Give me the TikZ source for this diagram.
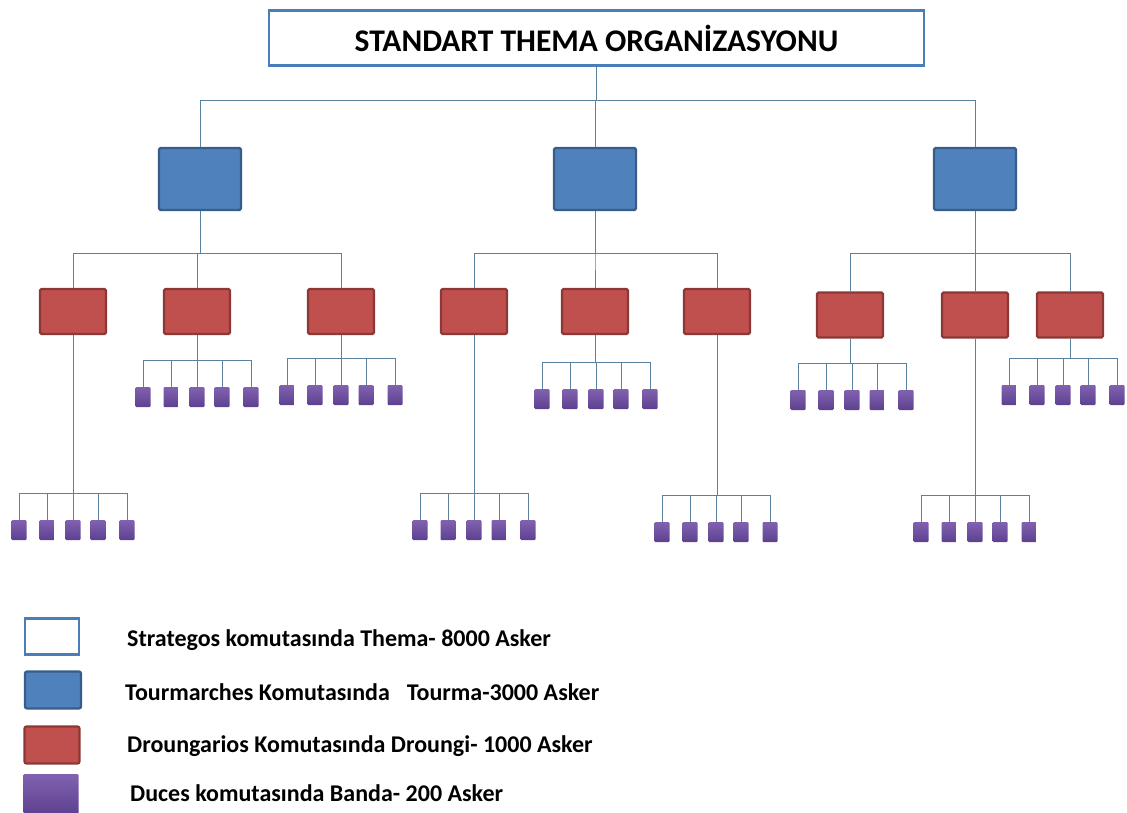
\documentclass[tikz,border=0pt]{standalone}
\usepackage{fontspec}
\setmainfont{Carlito}
\usetikzlibrary{positioning}
\definecolor{themaedge}{HTML}{4A7EBB}
\definecolor{tourmafill}{HTML}{4F81BD}
\definecolor{tourmaedge}{HTML}{385D8A}
\definecolor{droungifill}{HTML}{C0504D}
\definecolor{droungiedge}{HTML}{8C3836}
\definecolor{bandatop}{HTML}{8262B0}
\definecolor{bandabottom}{HTML}{5C4190}
\definecolor{linkcol}{HTML}{5A819E}
\tikzset{
	thema/.style={draw=themaedge, line width=2.2pt, fill=white, minimum width=655pt, minimum height=55pt, inner sep=0pt},
	tourma/.style={draw=tourmaedge, line width=2.2pt, fill=tourmafill, rounded corners=1.5pt, minimum width=82pt, minimum height=62pt},
	droungi/.style={draw=droungiedge, line width=2.2pt, fill=droungifill, rounded corners=1.5pt, minimum width=66pt, minimum height=45pt},
	banda/.style={top color=bandatop, bottom color=bandabottom, rounded corners=1pt, minimum width=15pt, minimum height=20pt, inner sep=0pt},
	link/.style={draw=linkcol, line width=1pt},
	legendtext/.style={anchor=west, inner sep=0pt, font=\fontsize{24}{28}\selectfont\bfseries},
}
\begin{document}
\begin{tikzpicture}[x=1pt,y=-1pt]
		\useasboundingbox (0,0) rectangle (1127,812);
		\node[thema] (thema) at (596.5,38) {\fontsize{31.5}{36}\selectfont\bfseries STANDART THEMA ORGANİZASYONU};

		% tourma
		\foreach \t/\x in {1/200,2/595,3/975}{
			\node[tourma] (t\t) at (\x,179) {};
			\draw[link] (thema.south) -- ++(0,34) -| (t\t.north);
		}

		% droungi
		\foreach \t/\d/\x/\y in {1/1/73/311.5,1/2/197/311.5,1/3/341/311.5,2/1/474/311.5,2/2/595/311.5,2/3/717/311.5,3/1/850/315,3/2/975/315,3/3/1070/315}{
			\node[droungi] (d\t\d) at (\x,\y) {};
			\draw[link] (t\t.south) -- ++(0,42) -| (d\t\d.north);
		}

		% banda, five under each droungi
		\foreach \g/\bus/\s in {11/493/0,12/360/0,13/358/0,21/493/0,22/362/1,23/495/-1,31/363/2,32/495/0,33/358/-7}{
			\coordinate (bus\g) at (d\g.south |- 0,\bus);
			\draw[link] (d\g.south) -- (bus\g);
			\foreach \k/\dx in {1/-54,2/-26,3/0,4/25,5/54}{
				\node[banda] (b\g\k) at ([xshift=\s pt+\dx pt, yshift=-37pt]bus\g) {};
				\draw[link] (bus\g) -| (b\g\k.north);
			}
		}

		% legend
		\node[thema, minimum width=54pt, minimum height=36pt, line width=2.6pt] (lthema) at (52,636.5) {};
		\node[tourma, minimum width=56pt, minimum height=37pt, rounded corners=2pt] (ltourma) at (53,690) {};
		\node[droungi, minimum width=55pt, minimum height=37pt, rounded corners=2pt] (ldroungi) at (52,745) {};
		\node[banda, minimum width=55pt, minimum height=40pt] (lbanda) at (51,794) {};
		\node[legendtext] at (127,640) {Strategos komutasında Thema- 8000 Asker};
		\node[legendtext] at (125,692) {Tourmarches Komutasında\hspace{0.7em}Tourma-3000 Asker};
		\node[legendtext] at (127,746) {Droungarios Komutasında Droungi- 1000 Asker};
		\node[legendtext] at (130,793) {Duces komutasında Banda- 200 Asker};
	\end{tikzpicture}
\end{document}
